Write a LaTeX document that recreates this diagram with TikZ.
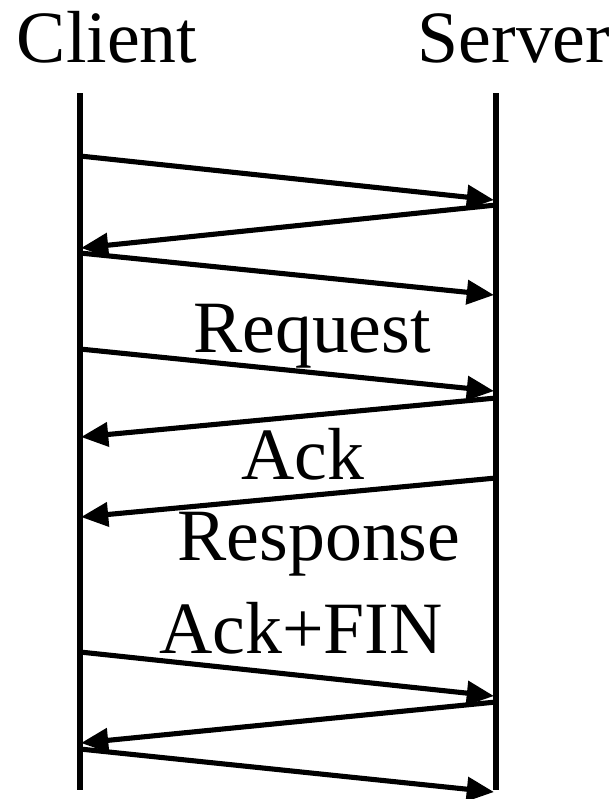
\documentclass[tikz,border=0pt]{standalone}
\usepackage{fontspec}
\setmainfont{Liberation Serif}
\usetikzlibrary{arrows.meta}

\begin{document}
\begin{tikzpicture}[x=0.02cm,y=-0.02cm,
  lifeline/.style={line width=3.4pt},
  msg/.style={line width=2.9pt,-{Triangle[length=15.5pt,width=13.5pt]}},
  lbl/.style={anchor=base,inner sep=0pt,font=\fontsize{42}{45}\selectfont}]
\path[use as bounding box] (0,0) rectangle (615,799);
% hosts and their lifelines
\node[lbl] (client) at (107,62) {Client};
\node[lbl] (server) at (514,62) {Server};
\coordinate (ctop) at (80,93);
\coordinate (cbot) at (80,790);
\coordinate (stop) at (496,93);
\coordinate (sbot) at (496,790);
\draw[lifeline] (ctop) -- (cbot);
\draw[lifeline] (stop) -- (sbot);
% connection setup
\coordinate (c1) at (80,156);
\coordinate (s1) at (494,200);
\coordinate (s2) at (496,205);
\coordinate (c2) at (81,248);
\coordinate (c3) at (80,253);
\coordinate (s3) at (494,295);
\draw[msg] (c1) -- (s1);
\draw[msg] (s2) -- (c2);
\draw[msg] (c3) -- (s3);
% request / response
\coordinate (c4) at (80,349);
\coordinate (s4) at (494,391);
\coordinate (s5) at (496,398);
\coordinate (c5) at (81,437);
\coordinate (s6) at (496,478);
\coordinate (c6) at (81,517);
\draw[msg] (c4) -- (s4);
\draw[msg] (s5) -- (c5);
\draw[msg] (s6) -- (c6);
\node[lbl] (request) at (312,352) {Request};
\node[lbl] (ack) at (303,479) {Ack};
\node[lbl] (response) at (319,560) {Response};
\node[lbl] (ackfin) at (301,653) {Ack+FIN};
% teardown
\coordinate (c7) at (80,652);
\coordinate (s7) at (494,696);
\coordinate (s8) at (496,702);
\coordinate (c8) at (81,743);
\coordinate (c9) at (80,749);
\coordinate (s9) at (494,792);
\draw[msg] (c7) -- (s7);
\draw[msg] (s8) -- (c8);
\draw[msg] (c9) -- (s9);
\end{tikzpicture}
\end{document}
